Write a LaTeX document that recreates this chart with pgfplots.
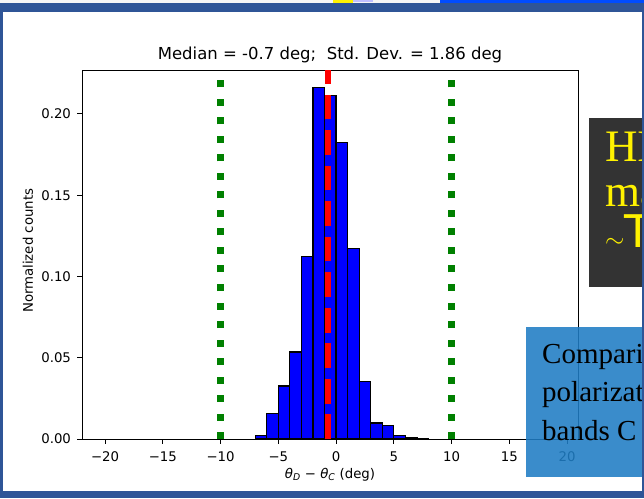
\documentclass[border=0pt]{standalone}
\usepackage{pgfplots}
\pgfplotsset{compat=1.18}
\usepackage{fontspec}
\setmainfont{DejaVu Sans}
\newfontfamily\slidefont{Liberation Serif}
\definecolor{slideblue}{RGB}{47,85,151}
\definecolor{boxblue}{RGB}{31,125,196}
\definecolor{boxgray}{RGB}{51,51,51}
\definecolor{mplgreen}{RGB}{0,128,0}

\begin{document}
\begin{tikzpicture}[x=1pt,y=1pt]
\useasboundingbox (0,0) rectangle (644,498);
\clip (0,0) rectangle (644,498);
% slide background and the strip of the picture above it
\fill[white] (0,0) rectangle (644,498);
\fill[gray!8] (0,495) rectangle (644,498);
\fill[yellow] (333,495) rectangle (353,498);
\fill[blue!25] (353,496) rectangle (373,498);
\fill[blue!70!cyan] (440,495) rectangle (644,498);

\begin{axis}[
    at={(82pt,59pt)}, anchor=south west,
    scale only axis, width=496pt, height=369pt,
    xmin=-22, xmax=20.95, ymin=0, ymax=0.227,
    axis line style={line width=0.8pt},
    xtick={-20,-15,...,20},
    xticklabels={−20,−15,−10,−5,0,5,10,15,20},
    ytick={0,0.05,0.1,0.15,0.2},
    yticklabels={0.00,0.05,0.10,0.15,0.20},
    tick align=outside, major tick length=4.5pt,
    tick style={black, line width=0.8pt},
    xtick pos=left, ytick pos=left,
    ticklabel style={font=\fontsize{13.3}{16}\selectfont},
    xticklabel style={yshift=-4.5pt},
    yticklabel style={xshift=-3pt},
    title={Median = -0.7 deg;\ \ Std. Dev. = 1.86 deg},
    title style={font=\fontsize{16.5}{19}\selectfont,
        at={(axis description cs:0.5,1)}, anchor=base, yshift=4pt},
    xlabel={\textit{θ}\textsubscript{\textit{D}} − \textit{θ}\textsubscript{\textit{C}} (deg)},
    xlabel style={font=\fontsize{13.3}{16}\selectfont,
        at={(axis description cs:0.5,0)}, anchor=base, yshift=-39pt},
    ylabel={Normalized counts},
    ylabel style={font=\fontsize{13.3}{16}\selectfont,
        at={(axis description cs:0,0.51)}, anchor=center, yshift=54pt},
]
\addplot[ybar interval, fill=blue, draw=black, line width=1.2pt] coordinates {
    (-7,0.0020) (-6,0.0158) (-5,0.0326) (-4,0.0535) (-3,0.1121)
    (-2,0.2162) (-1,0.2111) (0,0.1822) (1,0.1174) (2,0.0352)
    (3,0.0098) (4,0.0082) (5,0.0023) (6,0.0006) (7,0.0004) (8,0.0004)
};
% median
\addplot[red, line width=6.7pt, dash pattern=on 24.8pt off 10.7pt] coordinates {(-0.7,0) (-0.7,0.227)};
% +/- 10 deg
\addplot[mplgreen, line width=7pt, dash pattern=on 7pt off 11.5pt] coordinates {(-10,0) (-10,0.227)};
\addplot[mplgreen, line width=7pt, dash pattern=on 7pt off 11.5pt] coordinates {(10,0) (10,0.227)};
\end{axis}

% slide boxes lying over the figure
\fill[boxgray] (589,211) rectangle (644,380);
\node[anchor=base west, inner sep=0, text=yellow, font=\slidefont\fontsize{45}{45}\selectfont] at (605,336) {HI};
\node[anchor=base west, inner sep=0, text=yellow, font=\slidefont\fontsize{45}{45}\selectfont] at (605,291) {ma};
\node[anchor=base west, inner sep=0, text=yellow, font=\fontsize{45}{45}\selectfont] at (605,250) {$\sim$T};

\fill[boxblue, fill opacity=0.88] (526,21) rectangle (644,171);
\node[anchor=base west, inner sep=0, font=\slidefont\fontsize{29}{29}\selectfont] at (542,135) {Comparison};
\node[anchor=base west, inner sep=0, font=\slidefont\fontsize{29}{29}\selectfont] at (542,97) {polarization};
\node[anchor=base west, inner sep=0, font=\slidefont\fontsize{29}{29}\selectfont] at (542,58) {bands C};

% slide frame
\fill[slideblue] (0,486) rectangle (644,495);
\fill[slideblue] (0,0) rectangle (3,495);
\fill[slideblue] (0,0) rectangle (644,7);
\fill[slideblue] (642,0) rectangle (644,495);
\end{tikzpicture}
\end{document}
